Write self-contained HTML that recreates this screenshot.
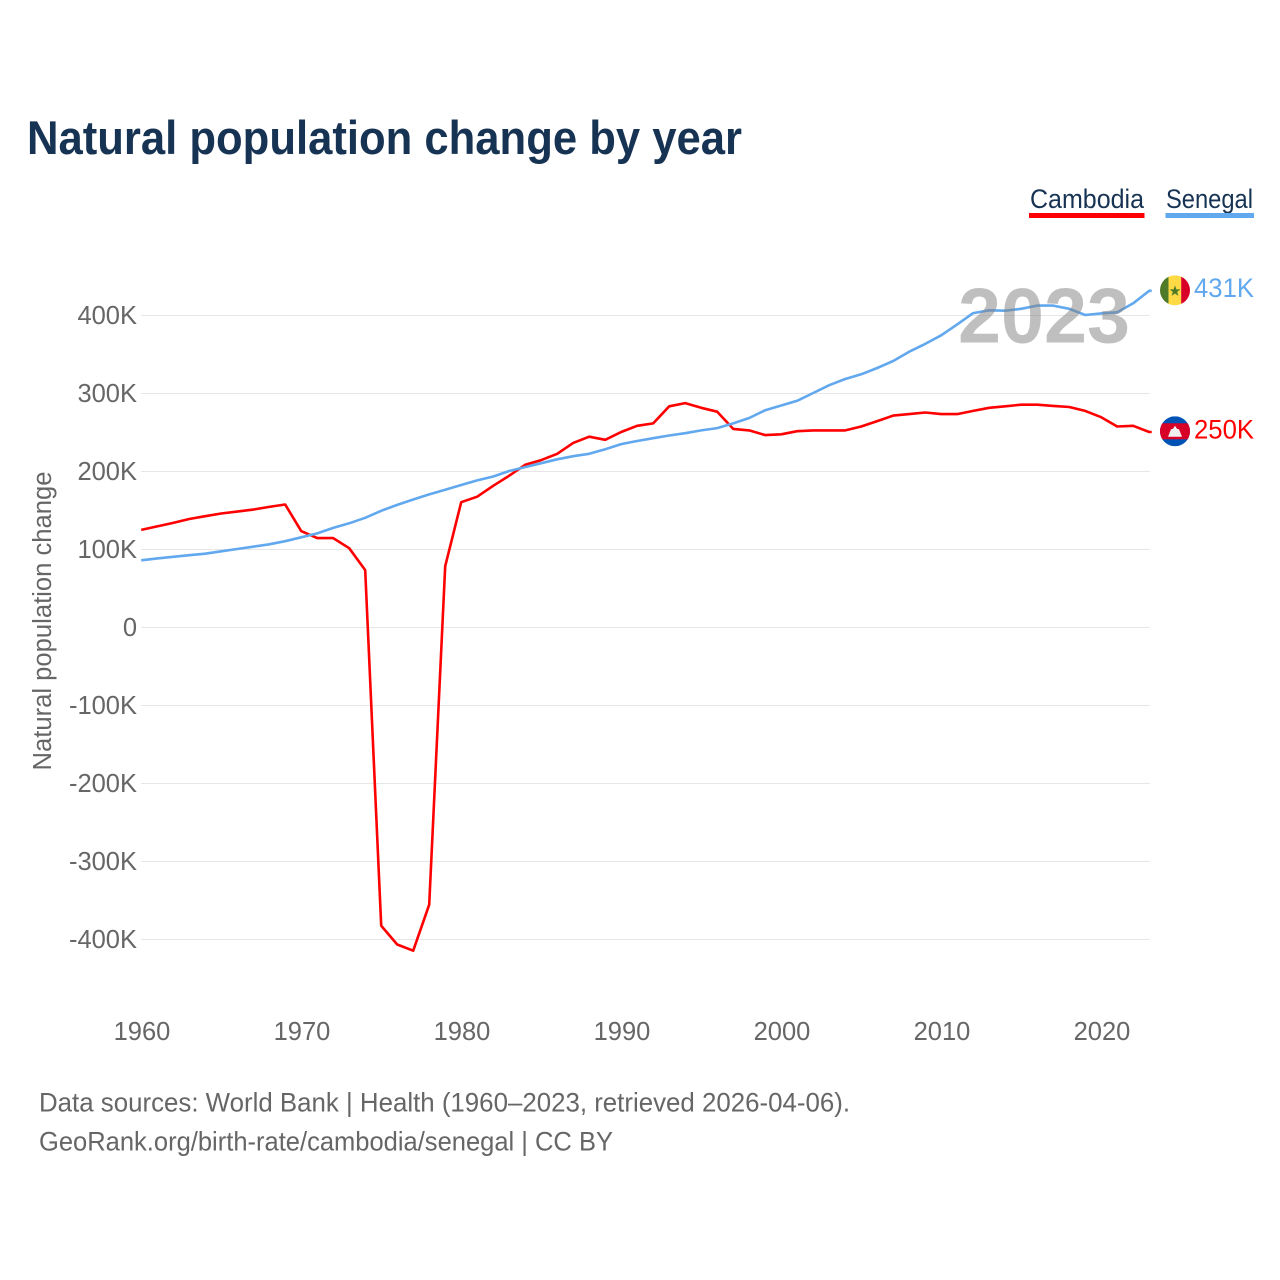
<!DOCTYPE html>
<html lang="en">
<head>
<meta charset="utf-8">
<title>Natural population change by year</title>
<style>
html,body{margin:0;padding:0;background:#fff;}
svg{display:block;font-family:"Liberation Sans",sans-serif;}
</style>
</head>
<body>
<svg id="chart" xmlns="http://www.w3.org/2000/svg" width="1280" height="1280" viewBox="0 0 1280 1280">
  <defs>
    <clipPath id="clip-senegal"><circle cx="1175" cy="290" r="15"/></clipPath>
    <clipPath id="clip-cambodia"><circle cx="1175" cy="431" r="15"/></clipPath>
  </defs>
  <rect width="1280" height="1280" fill="#fff"/>
  <text x="27" y="154" font-size="47" font-weight="700" fill="#173353" textLength="715" lengthAdjust="spacingAndGlyphs">Natural population change by year</text>

  <g>
    <text x="1030" y="208" font-size="27" fill="#173353" textLength="114" lengthAdjust="spacingAndGlyphs">Cambodia</text>
    <rect x="1029" y="213" width="115.5" height="5" fill="#ff0000"/>
  </g>
  <g>
    <text x="1166" y="208" font-size="27" fill="#173353" textLength="87" lengthAdjust="spacingAndGlyphs">Senegal</text>
    <rect x="1165.5" y="213" width="88.5" height="5" fill="#62a8ee"/>
  </g>

  <g id="grid"></g>
  <g id="y-ticks"></g>
  <g id="x-ticks"></g>
  <text transform="translate(51,621) rotate(-90)" text-anchor="middle" font-size="25.5" fill="#666" textLength="299" lengthAdjust="spacingAndGlyphs">Natural population change</text>
  <g id="series"></g>
  <text x="1044" y="342.5" text-anchor="middle" font-size="78" font-weight="700" fill="#808080" fill-opacity="0.5" textLength="172" lengthAdjust="spacingAndGlyphs">2023</text>

  <g id="flag-senegal" clip-path="url(#clip-senegal)">
    <rect x="1160" y="275" width="8.5" height="30" fill="#4f7a28"/>
    <rect x="1168.5" y="275" width="12.7" height="30" fill="#ffda44"/>
    <rect x="1181.2" y="275" width="9" height="30" fill="#d80027"/>
    <polygon points="1175,285 1176.4,289 1180.5,289 1177.2,291.6 1178.4,295.6 1175,293.2 1171.6,295.6 1172.8,291.6 1169.5,289 1173.6,289" fill="#4f7a28"/>
  </g>
  <g id="flag-cambodia" clip-path="url(#clip-cambodia)">
    <rect x="1160" y="416" width="30" height="30" fill="#0052b4"/>
    <rect x="1160" y="423" width="30" height="16" fill="#d80027"/>
    <polygon points="1175,425.5 1177,428.5 1179,429 1182,436.5 1168,436.5 1171,429 1173,428.5" fill="#f0f0f0"/>
  </g>
  <g id="end-labels"></g>

  <text x="39" y="1111.5" font-size="26.5" fill="#666" textLength="811" lengthAdjust="spacingAndGlyphs">Data sources: World Bank | Health (1960–2023, retrieved 2026-04-06).</text>
  <text x="39" y="1150.5" font-size="26.5" fill="#666" textLength="574" lengthAdjust="spacingAndGlyphs">GeoRank.org/birth-rate/cambodia/senegal | CC BY</text>
</svg>
<script>
const startYear = 1960;
const yTickValues = [400, 300, 200, 100, 0, -100, -200, -300, -400];
const yTickLabels = ["400K", "300K", "200K", "100K", "0", "-100K", "-200K", "-300K", "-400K"];
const xTickValues = [1960, 1970, 1980, 1990, 2000, 2010, 2020];
const xTickLabels = ["1960", "1970", "1980", "1990", "2000", "2010", "2020"];
const cambodiaValues = [124.5, 129, 133.5, 138.5, 142, 145.5, 148, 150.5, 154, 157,
  123, 114, 114, 101, 73, -383, -407, -415, -356, 78,
  160, 167, 181, 194, 208, 214, 222, 236, 244, 240,
  250, 258, 261, 283, 287, 281, 276, 254, 252, 246,
  247, 251, 252, 252, 252, 257, 264, 271, 273, 275,
  273, 273, 277, 281, 283, 285, 285, 283.5, 282, 277,
  269, 257, 258, 250];
const senegalValues = [85.5, 88, 90, 92, 94, 97, 100, 103, 106, 110,
  115, 120, 127, 133, 140, 149, 156.5, 163.5, 170, 176,
  182, 188, 193, 200, 205, 210, 215, 219, 222, 228,
  234.5, 238.5, 242, 245.5, 248.5, 252, 255, 261, 268, 278,
  284, 290, 300, 310, 318, 324, 332, 341, 353, 363,
  374, 388, 402.5, 406, 405.5, 408, 412, 412, 408, 400,
  402, 403.5, 415, 431];

const NS = "http://www.w3.org/2000/svg";
function xScale(year) { return 142 + (year - 1960) * 16; }
function yScale(value) { return 627 - value * 0.78; }
function lineX(year) { return xScale(year) - 0.8; }

const grid = document.getElementById("grid");
const yTicks = document.getElementById("y-ticks");
const xTicks = document.getElementById("x-ticks");
const series = document.getElementById("series");
const endLabels = document.getElementById("end-labels");

yTickValues.forEach(function (v, i) {
  const line = document.createElementNS(NS, "line");
  
  
  line.setAttribute("x1", 141);
  line.setAttribute("x2", 1150);
  line.setAttribute("y1", yScale(v) + 0.5);
  line.setAttribute("y2", yScale(v) + 0.5);
  line.setAttribute("stroke", "#e6e6e6");
  line.setAttribute("stroke-width", "1");
  grid.appendChild(line);

  const label = document.createElementNS(NS, "text");
  
  
  label.setAttribute("x", 137);
  label.setAttribute("y", yScale(v) + 9);
  label.setAttribute("text-anchor", "end");
  label.setAttribute("font-size", "25.5");
  label.setAttribute("fill", "#666");
  label.textContent = yTickLabels[i];
  yTicks.appendChild(label);
});

xTickValues.forEach(function (v, i) {
  const label = document.createElementNS(NS, "text");
  
  
  label.setAttribute("x", xScale(v));
  label.setAttribute("y", 1040);
  label.setAttribute("text-anchor", "middle");
  label.setAttribute("font-size", "25.5");
  label.setAttribute("fill", "#666");
  label.textContent = xTickLabels[i];
  xTicks.appendChild(label);
});

function buildPoints(values) {
  const pts = values.map(function (v, i) {
    return lineX(startYear + i).toFixed(1) + "," + yScale(v).toFixed(1);
  });
  const lastY = yScale(values[values.length - 1]);
  pts.push((lineX(startYear + values.length - 1) + 2.5).toFixed(1) + "," + lastY.toFixed(1));
  return pts.join(" ");
}

const cambodiaLine = document.createElementNS(NS, "polyline");


cambodiaLine.setAttribute("points", buildPoints(cambodiaValues));
cambodiaLine.setAttribute("fill", "none");
cambodiaLine.setAttribute("stroke", "#ff0000");
cambodiaLine.setAttribute("stroke-width", "2.6");
cambodiaLine.setAttribute("stroke-linejoin", "round");
series.appendChild(cambodiaLine);

const senegalLine = document.createElementNS(NS, "polyline");


senegalLine.setAttribute("points", buildPoints(senegalValues));
senegalLine.setAttribute("fill", "none");
senegalLine.setAttribute("stroke", "#62a8ee");
senegalLine.setAttribute("stroke-width", "2.6");
senegalLine.setAttribute("stroke-linejoin", "round");
series.appendChild(senegalLine);

function formatValue(v) { return Math.round(v) + "K"; }

const lastCambodia = cambodiaValues[cambodiaValues.length - 1];
const lastSenegal = senegalValues[senegalValues.length - 1];

const cambodiaEnd = document.createElementNS(NS, "text");


cambodiaEnd.setAttribute("x", 1194);
cambodiaEnd.setAttribute("y", yScale(lastCambodia) + 6.3);
cambodiaEnd.setAttribute("font-size", "26.5");
cambodiaEnd.setAttribute("fill", "#ff0000");
cambodiaEnd.setAttribute("textLength", "60");
cambodiaEnd.setAttribute("lengthAdjust", "spacingAndGlyphs");
cambodiaEnd.textContent = formatValue(lastCambodia);
endLabels.appendChild(cambodiaEnd);

const senegalEnd = document.createElementNS(NS, "text");


senegalEnd.setAttribute("x", 1194);
senegalEnd.setAttribute("y", yScale(lastSenegal) + 6);
senegalEnd.setAttribute("font-size", "26.5");
senegalEnd.setAttribute("fill", "#62a8ee");
senegalEnd.setAttribute("textLength", "60");
senegalEnd.setAttribute("lengthAdjust", "spacingAndGlyphs");
senegalEnd.textContent = formatValue(lastSenegal);
endLabels.appendChild(senegalEnd);

document.getElementById("flag-cambodia").setAttribute("transform", "translate(0," + (yScale(lastCambodia) - 0.7 - 431) + ")");
document.getElementById("flag-senegal").setAttribute("transform", "translate(0," + (yScale(lastSenegal) - 0.5 - 290) + ")");
</script>
</body>
</html>
